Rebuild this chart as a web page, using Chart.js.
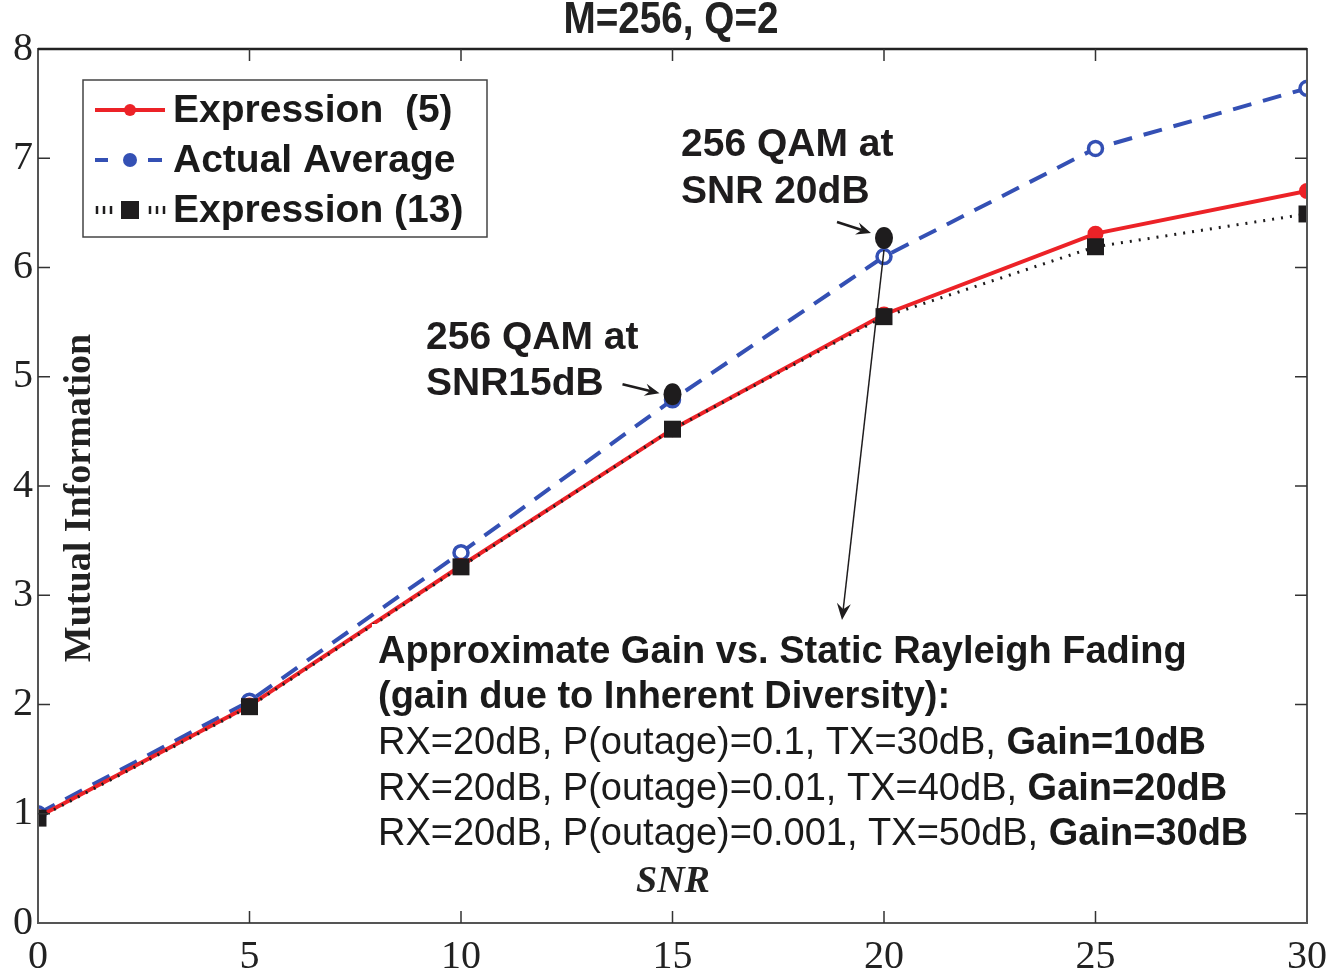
<!DOCTYPE html>
<html>
<head>
<meta charset="utf-8">
<script src="https://cdn.jsdelivr.net/npm/chart.js@4.4.1/dist/chart.umd.min.js"></script>
<style>
html, body { margin: 0; padding: 0; background: #fff; }
#wrap { width: 1331px; height: 973px; }
</style>
</head>
<body>
<div id="wrap"><canvas id="miChart" width="1331" height="973"></canvas></div>
<script>
// values
const snrValues = [0, 5, 10, 15, 20, 25, 30];
const expression5 = [0.97, 1.99, 3.27, 4.52, 5.57, 6.31, 6.70];
const actualAverage = [1.00, 2.03, 3.39, 4.79, 6.10, 7.09, 7.64];
const expression13 = [0.96, 1.98, 3.26, 4.52, 5.55, 6.19, 6.49];
const xTicks = [0, 5, 10, 15, 20, 25, 30];
const yTicks = [0, 1, 2, 3, 4, 5, 6, 7, 8];
const qamMarkers = [{ x: 15, y: 4.84 }, { x: 20, y: 6.27 }];
const legendLabels = ['Expression  (5)', 'Actual Average', 'Expression (13)'];
const gainLines = [
    ['RX=20dB, P(outage)=0.1, TX=30dB, ', 'Gain=10dB'],
    ['RX=20dB, P(outage)=0.01, TX=40dB, ', 'Gain=20dB'],
    ['RX=20dB, P(outage)=0.001, TX=50dB, ', 'Gain=30dB']
];

const RED = '#ec2227';
const BLUE = '#3450b4';
const BLACK = '#1e1c1d';
const SANS = "'Liberation Sans', Arial, sans-serif";
const SERIF = "'Liberation Serif', 'Times New Roman', serif";

const toPoints = ys => snrValues.map((x, i) => ({ x: x, y: ys[i] }));

function drawArrow(ctx, x1, y1, x2, y2, head) {
    const ang = Math.atan2(y2 - y1, x2 - x1);
    ctx.beginPath();
    ctx.moveTo(x1, y1);
    ctx.lineTo(x2 - Math.cos(ang) * head * 0.6, y2 - Math.sin(ang) * head * 0.6);
    ctx.stroke();
    ctx.beginPath();
    ctx.moveTo(x2, y2);
    ctx.lineTo(x2 - head * Math.cos(ang - 0.4), y2 - head * Math.sin(ang - 0.4));
    ctx.lineTo(x2 - head * 0.6 * Math.cos(ang), y2 - head * 0.6 * Math.sin(ang));
    ctx.lineTo(x2 - head * Math.cos(ang + 0.4), y2 - head * Math.sin(ang + 0.4));
    ctx.closePath();
    ctx.fill();
}

const overlay = {
    id: 'overlay',
    afterDraw(chart) {
        const ctx = chart.ctx;
        const xs = chart.scales.x, ys = chart.scales.y;
        const a = chart.chartArea;
        const px = v => xs.getPixelForValue(v);
        const py = v => ys.getPixelForValue(v);
        ctx.save();

        // axes box with inward ticks
        ctx.strokeStyle = '#555';
        ctx.lineWidth = 2;
        ctx.strokeRect(a.left, a.top, a.right - a.left, a.bottom - a.top);
        ctx.strokeStyle = '#222';
        ctx.lineWidth = 2.5;
        ctx.beginPath();
        ctx.moveTo(a.left, a.top);
        ctx.lineTo(a.right, a.top);
        ctx.stroke();
        ctx.strokeStyle = '#333';
        ctx.lineWidth = 1.5;
        ctx.beginPath();
        xTicks.slice(1, -1).forEach(v => {
            ctx.moveTo(px(v), a.bottom); ctx.lineTo(px(v), a.bottom - 12);
            ctx.moveTo(px(v), a.top); ctx.lineTo(px(v), a.top + 12);
        });
        yTicks.slice(1, -1).forEach(v => {
            ctx.moveTo(a.left, py(v)); ctx.lineTo(a.left + 12, py(v));
            ctx.moveTo(a.right, py(v)); ctx.lineTo(a.right - 12, py(v));
        });
        ctx.stroke();

        // title (condensed)
        ctx.fillStyle = '#222';
        ctx.textAlign = 'center';
        ctx.textBaseline = 'middle';
        ctx.save();
        ctx.translate(671, 21);
        ctx.scale(0.88, 1);
        ctx.font = 'bold 44px ' + SANS;
        ctx.fillText('M=256, Q=2', 0, 0);
        ctx.restore();

        // axis labels inside the plot
        ctx.font = 'bold 38px ' + SERIF;
        ctx.save();
        ctx.translate(80, 498);
        ctx.rotate(-Math.PI / 2);
        ctx.fillText('Mutual Information', 0, 0);
        ctx.restore();
        ctx.font = 'italic bold 38px ' + SERIF;
        ctx.fillText('SNR', 673, 882);

        // legend
        ctx.fillStyle = '#fff';
        ctx.fillRect(83, 80, 404, 157);
        ctx.strokeStyle = '#444';
        ctx.lineWidth = 1.5;
        ctx.strokeRect(83, 80, 404, 157);
        const ly = [110, 160, 210];
        ctx.lineWidth = 4;
        ctx.strokeStyle = RED;
        ctx.beginPath(); ctx.moveTo(95, ly[0]); ctx.lineTo(165, ly[0]); ctx.stroke();
        ctx.fillStyle = RED;
        ctx.beginPath(); ctx.arc(130, ly[0], 6, 0, Math.PI * 2); ctx.fill();
        ctx.strokeStyle = BLUE;
        ctx.beginPath();
        ctx.moveTo(95, ly[1]); ctx.lineTo(108, ly[1]);
        ctx.moveTo(148, ly[1]); ctx.lineTo(162, ly[1]);
        ctx.stroke();
        ctx.fillStyle = BLUE;
        ctx.beginPath(); ctx.arc(130, ly[1], 7, 0, Math.PI * 2); ctx.fill();
        ctx.strokeStyle = BLACK;
        ctx.lineWidth = 2.5;
        ctx.beginPath();
        [97, 104, 111, 150, 157, 164].forEach(x => { ctx.moveTo(x, ly[2] - 4); ctx.lineTo(x, ly[2] + 4); });
        ctx.stroke();
        ctx.fillStyle = BLACK;
        ctx.fillRect(121, ly[2] - 9, 18, 18);
        ctx.fillStyle = '#1a1a1a';
        ctx.textAlign = 'left';
        ctx.font = 'bold 39px ' + SANS;
        legendLabels.forEach((t, i) => ctx.fillText(t, 173, ly[i] + 1));

        // QAM markers and arrows
        ctx.fillStyle = BLACK;
        ctx.strokeStyle = BLACK;
        qamMarkers.forEach(m => {
            ctx.beginPath();
            ctx.ellipse(px(m.x), py(m.y), 9, 11, 0, 0, Math.PI * 2);
            ctx.fill();
        });
        const m15 = qamMarkers[0], m20 = qamMarkers[1];
        ctx.lineWidth = 2.5;
        drawArrow(ctx, px(m15.x) - 50, py(m15.y) - 10, px(m15.x) - 13, py(m15.y) - 1, 16);
        drawArrow(ctx, px(m20.x) - 47, py(m20.y) - 16, px(m20.x) - 13, py(m20.y) - 5, 16);
        ctx.lineWidth = 1.5;
        drawArrow(ctx, px(m20.x), py(m20.y) + 12, px(m20.x) - 42, 620, 18);

        ctx.font = 'bold 39px ' + SANS;
        ctx.fillText('256 QAM at', 426, 338);
        ctx.fillText('SNR15dB', 426, 384);
        ctx.fillText('256 QAM at', 681, 145);
        ctx.fillText('SNR 20dB', 681, 192);

        // gain text block
        ctx.fillStyle = '#fff';
        ctx.fillRect(372, 624, 890, 232);
        ctx.fillStyle = '#1a1a1a';
        ctx.font = 'bold 38px ' + SANS;
        ctx.fillText('Approximate Gain vs. Static Rayleigh Fading', 378, 653);
        ctx.fillText('(gain due to Inherent Diversity):', 378, 698);
        gainLines.forEach((parts, i) => {
            const y = 744 + i * 45.5;
            ctx.font = '38px ' + SANS;
            ctx.fillText(parts[0], 378, y);
            const w = ctx.measureText(parts[0]).width;
            ctx.font = 'bold 38px ' + SANS;
            ctx.fillText(parts[1], 378 + w, y);
        });
        ctx.restore();
    }
};

new Chart(document.getElementById('miChart').getContext('2d'), {
    type: 'line',
    data: {
        datasets: [
            {
                label: legendLabels[0],
                data: toPoints(expression5),
                borderColor: RED,
                backgroundColor: RED,
                borderWidth: 4,
                pointRadius: 6,
                pointStyle: 'circle',
                tension: 0,
                order: 1
            },
            {
                label: legendLabels[1],
                data: toPoints(actualAverage),
                borderColor: BLUE,
                backgroundColor: '#fff',
                borderWidth: 4,
                borderDash: [19, 12],
                pointRadius: 7,
                pointBorderWidth: 3.5,
                pointStyle: 'circle',
                tension: 0,
                order: 2
            },
            {
                label: legendLabels[2],
                data: toPoints(expression13),
                borderColor: BLACK,
                backgroundColor: BLACK,
                borderWidth: 3,
                borderDash: [2, 7],
                pointRadius: 12,
                pointBorderWidth: 0,
                pointStyle: 'rect',
                tension: 0,
                order: 0
            }
        ]
    },
    options: {
        responsive: false,
        animation: false,
        layout: { padding: { top: 49, right: 24, left: 0, bottom: 0 } },
        plugins: { legend: { display: false }, tooltip: { enabled: false } },
        scales: {
            x: {
                type: 'linear',
                min: 0,
                max: 30,
                afterBuildTicks: s => { s.ticks = xTicks.map(v => ({ value: v })); },
                afterFit: s => { s.height = 50; s.paddingLeft = 0; s.paddingRight = 0; },
                grid: { display: false, drawTicks: false },
                border: { display: false },
                ticks: { font: { family: SERIF, size: 40 }, color: '#222', padding: 10, maxRotation: 0 }
            },
            y: {
                min: 0,
                max: 8,
                afterBuildTicks: s => { s.ticks = yTicks.map(v => ({ value: v })); },
                afterFit: s => { s.width = 38; s.paddingTop = 0; s.paddingBottom = 0; },
                grid: { display: false, drawTicks: false },
                border: { display: false },
                ticks: { font: { family: SERIF, size: 40 }, color: '#222', padding: 5 }
            }
        }
    },
    plugins: [overlay]
});
</script>
</body>
</html>
